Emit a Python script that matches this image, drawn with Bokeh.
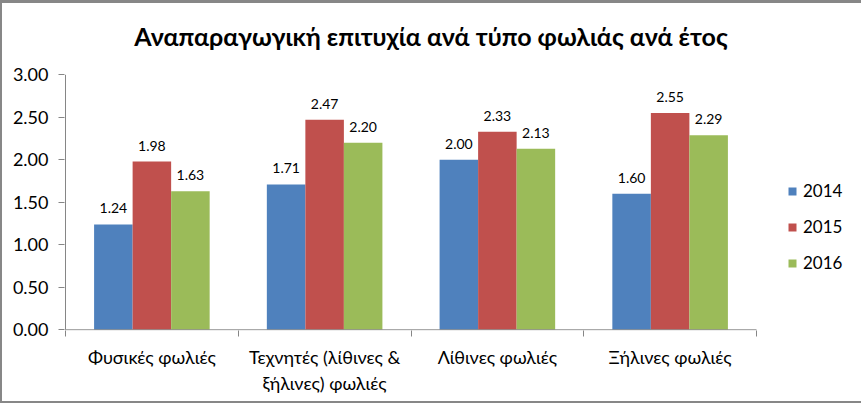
from bokeh.plotting import figure
from bokeh.models import (ColumnDataSource, FixedTicker, Legend, LegendItem,
                          NumeralTickFormatter, Range1d, Label)
from bokeh.core.properties import value
from bokeh.embed import file_html
from bokeh.resources import INLINE

categories = ["Φυσικές φωλιές", "Τεχνητές (λίθινες &\nξήλινες) φωλιές",
              "Λίθινες φωλιές", "Ξήλινες φωλιές"]
years = ["2014", "2015", "2016"]
v2014 = [1.24, 1.71, 2.00, 1.60]
v2015 = [1.98, 2.47, 2.33, 2.55]
v2016 = [1.63, 2.20, 2.13, 2.29]
colors = ["#4F81BD", "#C0504D", "#9BBB59"]
y_ticks = [0, 0.5, 1, 1.5, 2, 2.5, 3]
title_text = "Αναπαραγωγική επιτυχία ανά τύπο φωλιάς ανά έτος"

FONT = "Lato"
GRAY = "#868686"
ncat = len(categories)
y_max = y_ticks[-1]

# frame spans most of the canvas; axis lines are drawn as segments so that the
# title and legend (which sit outside the value area) can live inside the frame
PX_X = 172.75   # pixels per category
PX_Y = 85.0     # pixels per unit of value
W, H = 861, 403
left, top, bottom = 64, 3, 73
x0 = -1.0 / PX_X
x1 = x0 + (W - left) / PX_X
y0 = -0.7 / PX_Y
y1 = y0 + (H - top - bottom) / PX_Y

p = figure(width=W, height=H, output_backend="svg", toolbar_location=None,
           x_range=Range1d(x0, x1), y_range=Range1d(y0, y1),
           min_border_left=left, min_border_right=0, min_border_top=top,
           min_border_bottom=bottom, outline_line_color=None,
           border_fill_alpha=0, background_fill_color="white",
           styles={"box-shadow": "inset 2px 3px 0 0 #878787, inset 0 -2px 0 0 #878787",
                   "background-color": "white"})
p.grid.visible = False

bar_w = 0.223
offsets = [-bar_w, 0.0, bar_w]
series = [v2014, v2015, v2016]
renderers = []
for yr, vals, off, col in zip(years, series, offsets, colors):
    xs = [i + 0.5 + off for i in range(ncat)]
    src = ColumnDataSource(dict(x=xs, top=vals, lab=[f"{v:.2f}" for v in vals]))
    r = p.vbar(x="x", top="top", bottom=0, width=bar_w, source=src,
               fill_color=col, line_color=None)
    renderers.append(r)
    p.text(x="x", y="top", text="lab", source=src, y_offset=-16,
           text_align="center", text_baseline="middle", text_font=value(FONT),
           text_font_size="14px", text_color="#000000")

# axis lines
p.segment(x0=[0, 0], y0=[0, 0], x1=[ncat, 0], y1=[0, y_max], line_color=GRAY, line_width=1)

# y axis
ya = p.yaxis[0]
ya.ticker = FixedTicker(ticks=y_ticks)
ya.formatter = NumeralTickFormatter(format="0.00")
ya.axis_line_color = None
ya.major_tick_line_color = GRAY
ya.major_tick_out = 6
ya.major_tick_in = 0
ya.minor_tick_line_color = None
ya.major_label_text_font = FONT
ya.major_label_text_font_size = "18px"
ya.major_label_text_color = "#000000"
ya.major_label_standoff = 10

# x axis
xa = p.xaxis[0]
xa.ticker = FixedTicker(ticks=[i + 0.5 for i in range(ncat)],
                        minor_ticks=list(range(ncat + 1)))
xa.major_label_overrides = {i + 0.5: c for i, c in enumerate(categories)}
xa.axis_line_color = None
xa.major_tick_line_color = None
xa.major_tick_out = 0
xa.major_tick_in = 0
xa.minor_tick_line_color = GRAY
xa.minor_tick_out = 6
xa.minor_tick_in = 0
xa.major_label_text_font = FONT
xa.major_label_text_font_size = "18px"
xa.major_label_text_color = "#000000"
xa.major_label_standoff = 9

# title (centred on the whole canvas, ~35 px from the top)
p.add_layout(Label(x=(W / 2 - left) / PX_X + x0, y=y1 - (35 - top) / PX_Y,
                   text=title_text, text_align="center", text_baseline="middle",
                   text_font=FONT, text_font_style="bold", text_font_size="25px",
                   text_color="#000000"))

# legend
legend = Legend(items=[LegendItem(label=y, renderers=[r]) for y, r in zip(years, renderers)],
                location=(723, 57), glyph_width=10, glyph_height=10, label_height=20,
                spacing=15, padding=0, margin=0, border_line_color=None,
                background_fill_alpha=0, label_standoff=6,
                label_text_font=FONT, label_text_font_size="17px",
                label_text_color="#000000")
p.add_layout(legend, "center")

open("out.html", "w").write(file_html(p, INLINE))
